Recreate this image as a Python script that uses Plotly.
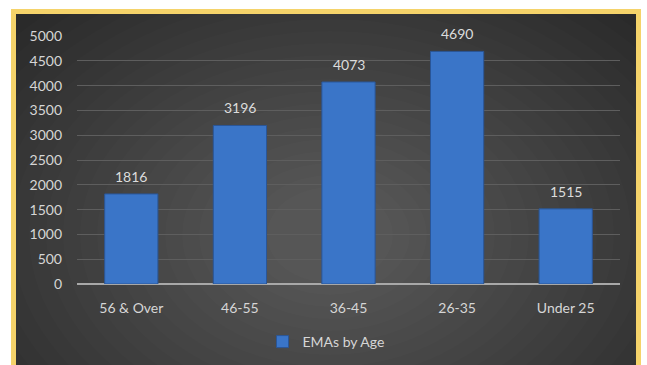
import plotly.graph_objects as go

categories = ["56 & Over", "46-55", "36-45", "26-35", "Under 25"]
values = [1816, 3196, 4073, 4690, 1515]
series_name = "EMAs by Age"
y_ticks = [0, 500, 1000, 1500, 2000, 2500, 3000, 3500, 4000, 4500, 5000]

W, H = 647, 365
L, R, T, B = 77, 27, 36, 81
PW, PH = W - L - R, H - T - B

def px(x):
    return (x - L) / PW

def py(y):
    return (H - B - y) / PH

FONT = "Lato, Open Sans, sans-serif"

fig = go.Figure()
fig.add_trace(go.Bar(
    x=categories, y=values, name=series_name,
    marker=dict(color="#3a75c8", line=dict(color="#2a5697", width=1)),
    width=0.49, showlegend=True,
))

def rect(x0, x1, y0, y1, color):
    return dict(type="rect", xref="paper", yref="paper", x0=px(x0), x1=px(x1),
                y0=py(y1), y1=py(y0), fillcolor=color, line=dict(width=0), layer="below")

shapes = [rect(-10, 660, -10, 380, "#2a2a2a")]
# soft radial lightening toward the centre of the panel
cx, cy = 330, 235
n = 22
for i in range(n):
    rx = 420 - i * 17
    ry = 300 - i * 12
    shapes.append(dict(type="circle", xref="paper", yref="paper",
                       x0=px(cx - rx), x1=px(cx + rx), y0=py(cy + ry), y1=py(cy - ry),
                       fillcolor="rgba(255,255,255,0.0135)", line=dict(width=0), layer="below"))
# yellow frame and white outside
shapes += [
    rect(11, 16, 9, 380, "#f5d36a"),
    rect(636, 641, 9, 380, "#f5d36a"),
    rect(11, 641, 9, 14, "#f5d36a"),
    rect(-10, 11, -10, 380, "white"),
    rect(641, 660, -10, 380, "white"),
    rect(-10, 660, -10, 9, "white"),
]

annotations = [
    dict(x=c, y=v, text=str(v), showarrow=False, yanchor="bottom", yshift=7,
         font=dict(family=FONT, size=14, color="#dcdcdc"))
    for c, v in zip(categories, values)
]

fig.update_layout(
    width=W, height=H,
    margin=dict(l=L, r=R, t=T, b=B, autoexpand=False),
    paper_bgcolor="#2a2a2a", plot_bgcolor="rgba(0,0,0,0)",
    shapes=shapes, annotations=annotations,
    font=dict(family=FONT, size=13, color="#d6d6d6"),
    bargap=0.51,
    legend=dict(orientation="h", x=px(326), xanchor="center", y=py(342), yanchor="middle",
                itemwidth=30,
                font=dict(family=FONT, size=14, color="#d6d6d6"), bgcolor="rgba(0,0,0,0)"),
    xaxis=dict(showgrid=False, ticks="", tickfont=dict(size=14, color="#d6d6d6"),
               showline=False, zeroline=False, ticklabelstandoff=14, automargin=False),
    yaxis=dict(range=[0, 5000], tickvals=y_ticks, showgrid=True, gridcolor="#5e5e5e",
               gridwidth=1, zeroline=True, zerolinecolor="#a8a8a8", zerolinewidth=2,
               showline=False, ticks="", tickfont=dict(size=14, color="#d6d6d6"),
               ticklabelstandoff=14, automargin=False),
)

fig.write_html("out.html")
